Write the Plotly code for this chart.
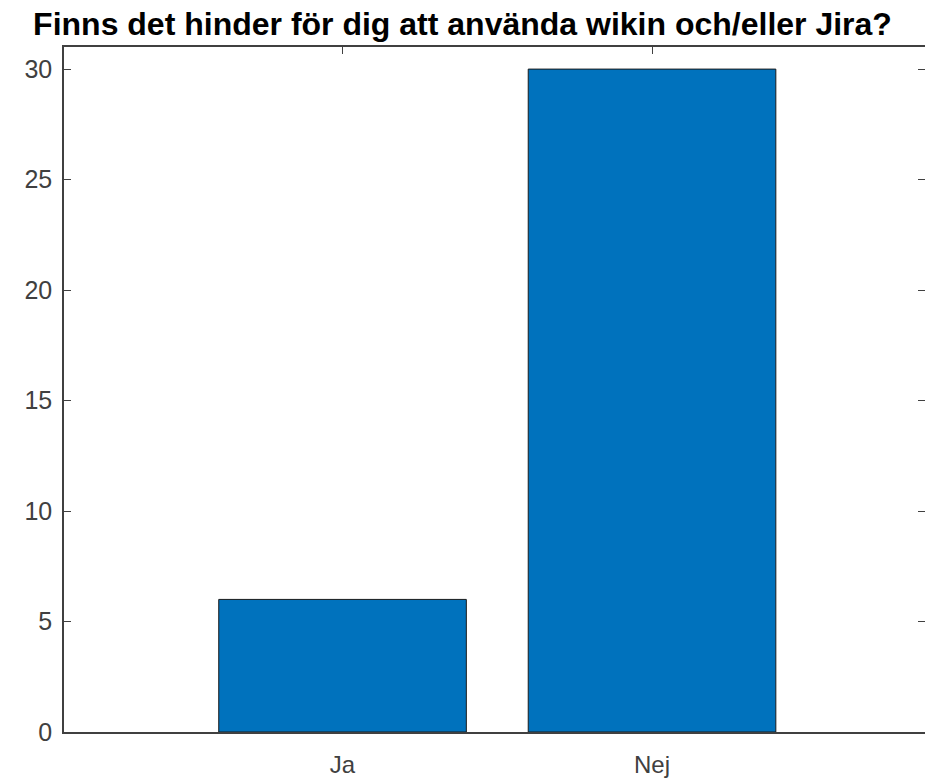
import plotly.graph_objects as go

categories = ["Ja", "Nej"]
counts = [6, 30]
y_ticks = [0, 5, 10, 15, 20, 25, 30]
title_text = "Finns det hinder för dig att använda wikin och/eller Jira?"

axis_color = "#404040"
font_family = "Liberation Sans, Arial, sans-serif"

fig = go.Figure()
fig.add_trace(go.Bar(
    x=categories, y=counts, width=0.8,
    marker=dict(color="#0072BD", line=dict(color="#1a1a1a", width=1)),
    showlegend=False, hoverinfo="x+y",
))
fig.add_trace(go.Scatter(
    x=[categories[0]], y=[0], yaxis="y2", mode="markers",
    marker=dict(opacity=0), showlegend=False, hoverinfo="skip",
))

fig.update_layout(
    width=925, height=779,
    margin=dict(l=64, r=0, t=47, b=47),
    paper_bgcolor="white", plot_bgcolor="white",
    font=dict(family=font_family, color="#262626"),
    title=dict(text="<b>" + title_text + "</b>", x=0.5, xanchor="center",
               y=1 - 24 / 779, yanchor="middle",
               font=dict(size=32, color="#000000", family=font_family)),
    xaxis=dict(
        range=[-0.9, 1.882], showline=True, linecolor=axis_color, linewidth=1.5,
        mirror="ticks", ticks="inside", ticklen=7, tickcolor=axis_color,
        tickfont=dict(size=24, color="#404040"), showgrid=False, zeroline=False,
        layer="below traces", ticklabelstandoff=10,
    ),
    yaxis=dict(
        range=[0, 31], tickvals=y_ticks, showline=True, linecolor=axis_color,
        linewidth=1.5, ticks="inside", ticklen=7, tickcolor=axis_color,
        tickfont=dict(size=25, color="#404040"), showgrid=False, zeroline=False,
        ticklabelstandoff=5,
    ),
    yaxis2=dict(
        range=[0, 31], tickvals=y_ticks, overlaying="y", side="right",
        showline=False, ticks="inside", ticklen=7, tickcolor=axis_color,
        showticklabels=False, showgrid=False, zeroline=False,
    ),
    bargap=0.2,
)

fig.write_html(
    "out.html",
    config={"displayModeBar": False},
    post_script="document.body.style.margin='0';document.body.style.overflow='hidden';",
)
